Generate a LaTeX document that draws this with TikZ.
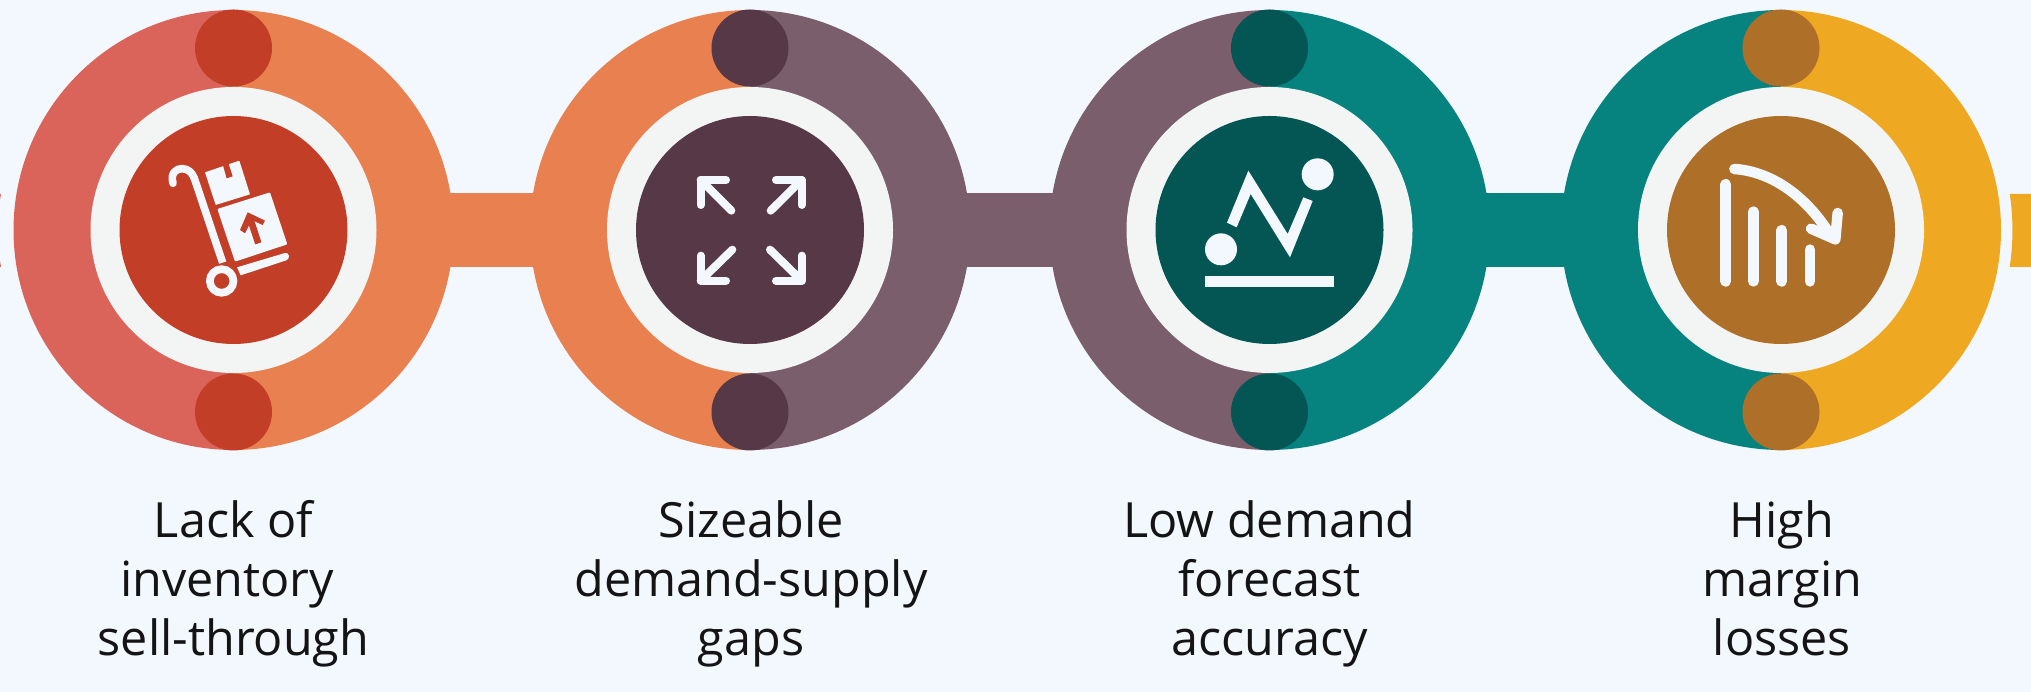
\documentclass[tikz,border=0pt]{standalone}
\usepackage{fontspec}
\setmainfont{Open Sans}
\usetikzlibrary{calc}
\definecolor{bgc}{HTML}{F3F7FE}
\definecolor{ringc}{HTML}{F3F5F4}
\definecolor{txtc}{HTML}{141414}
\definecolor{pinkc}{HTML}{DB645A}
\definecolor{orangec}{HTML}{E9804F}
\definecolor{purplec}{HTML}{7A5E6C}
\definecolor{tealc}{HTML}{06827F}
\definecolor{yellowc}{HTML}{EFA821}
\definecolor{redd}{HTML}{C23E27}
\definecolor{purpled}{HTML}{563847}
\definecolor{teald}{HTML}{035654}
\definecolor{brownd}{HTML}{AE7028}
\tikzset{
  label text/.style={align=center,text=txtc,font=\fontsize{48.5}{59}\selectfont,inner sep=0pt,anchor=north},
  icon line/.style={draw=bgc,line cap=round,line join=round},
  icon scope/.style={x=0.33333pt,y=-0.33333pt}
}
\newcommand{\bigdisc}[4]{% coord, left, right, dark
  \fill[#2] (#1)++(0,220) arc[start angle=90,end angle=270,radius=220] -- cycle;
  \fill[#3] (#1)++(0,-220) arc[start angle=-90,end angle=90,radius=220] -- cycle;
  \fill[ringc] (#1) circle[radius=143];
  \fill[#4] (#1) circle[radius=114];
  \fill[#4] ($(#1)+(0,182)$) circle[radius=38.5];
  \fill[#4] ($(#1)+(0,-182)$) circle[radius=38.5];
}
\begin{document}
\begin{tikzpicture}[x=1pt,y=1pt]
\useasboundingbox (0,0) rectangle (2031,692);
\fill[bgc] (0,0) rectangle (2031,692);
\coordinate (c1) at (233.5,462);
\coordinate (c2) at (750,462);
\coordinate (c3) at (1269.5,462);
\coordinate (c4) at (1781,462);
% connector bars
\fill[orangec] ($(c1)+(0,37)$) rectangle ($(c2)+(0,-37)$);
\fill[purplec] ($(c2)+(0,37)$) rectangle ($(c3)+(0,-37)$);
\fill[tealc] ($(c3)+(0,37)$) rectangle ($(c4)+(0,-37)$);
\fill[yellowc] (2031,498) -- (2009.7,498) .. controls (2011.6,486) and (2012.4,474) .. (2012.4,462) .. controls (2012.4,450) and (2011.6,438) .. (2009.7,425) -- (2031,425) -- cycle;
\fill[pinkc] (0,498) -- (1,498) -- (0,492) -- cycle;
\fill[pinkc] (0,425) -- (1,425) -- (0,431) -- cycle;
% discs
\bigdisc{c1}{pinkc}{orangec}{redd}
\bigdisc{c2}{orangec}{purplec}{purpled}
\bigdisc{c3}{purplec}{tealc}{teald}
\bigdisc{c4}{tealc}{yellowc}{brownd}
% icon 1: hand truck
\begin{scope}[shift={(130,562)},icon scope]
  \draw[icon line,line width=7.6pt] (129,160) .. controls (120,128) and (140,116) .. (155,116) .. controls (175,116) and (186,128) .. (192,143);
  \draw[draw=bgc,line width=7.6pt] (192,142) -- (278,398);
  \draw[draw=bgc,line width=7.7pt] (275,453) circle[radius=11.8pt];
  \fill[bgc,rounded corners=1pt] (262,237) -- (420,187) -- (472,343) -- (315,395) -- cycle;
  \fill[bgc,rounded corners=0.5pt] (225,127) -- (328,92) -- (360,193) -- (257,225) -- cycle;
  \fill[redd] (279,106) -- (290,145) -- (308,139) -- (295,99) -- cycle;
  \draw[draw=redd,line width=6.6pt] (385,340) -- (362,270);
  \fill[redd] (353,247) -- (405,272) -- (398,285) -- (365,270) -- (345,310) -- (330,300) -- cycle;
  \fill[bgc] (321,412) -- (465,369) .. controls (478,366) and (482,386) .. (469,391) -- (332,436) -- cycle;
\end{scope}
% icon 2: four arrows
\begin{scope}[shift={(640,602)},icon scope]
  \draw[icon line,line width=8pt] (258,270) -- (182,270) -- (182,345);
  \draw[icon line,line width=8pt] (182,270) -- (274,362);
  \draw[icon line,line width=8pt] (408,270) -- (485,270) -- (485,345);
  \draw[icon line,line width=8pt] (485,270) -- (392,362);
  \draw[icon line,line width=8pt] (258,572) -- (182,572) -- (182,497);
  \draw[icon line,line width=8pt] (182,572) -- (277,479);
  \draw[icon line,line width=8pt] (408,572) -- (485,572) -- (485,497);
  \draw[icon line,line width=8pt] (485,572) -- (390,479);
\end{scope}
% icon 3: zigzag
\begin{scope}[shift={(1160,572)},icon scope]
  \fill[bgc] (473,163) circle[radius=16pt];
  \fill[bgc] (183,388) circle[radius=16pt];
  \fill[bgc] (135,468) rectangle (522,500);
  \fill[bgc] (201,308) -- (265,152) -- (383,342) -- (430,232) -- (458,243) -- (390,412) -- (272,222) -- (230,322) -- cycle;
\end{scope}
% icon 4: falling bars
\begin{scope}[shift={(1680,562)},icon scope]
  \draw[icon line,line width=10.7pt] (137,163) -- (137,454);
  \draw[icon line,line width=10.7pt] (220,245) -- (220,454);
  \draw[icon line,line width=10.7pt] (305,301) -- (305,454);
  \draw[icon line,line width=10.7pt] (390,359) -- (390,454);
  \draw[icon line,line width=10.5pt] (163,117) .. controls (280,125) and (385,205) .. (455,322);
  \draw[icon line,line width=10.5pt] (393,296) -- (466,328) -- (473,249);
\end{scope}
% labels
\node[label text] (t1) at (233.5,192) {Lack of\\inventory\rule{13pt}{0pt}\\sell-through};
\node[label text] (t2) at (751,192) {Sizeable\\demand-supply\\gaps};
\node[label text] (t3) at (1269.5,192) {Low demand\\forecast\\accuracy};
\node[label text] (t4) at (1782,192) {High\\margin\\losses};
\end{tikzpicture}
\end{document}
